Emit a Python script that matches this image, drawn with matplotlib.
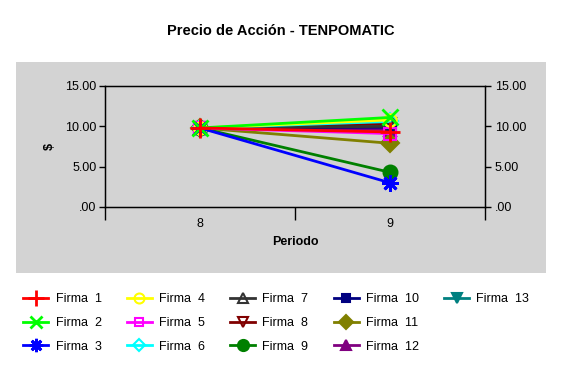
import matplotlib
matplotlib.use('Agg')
import matplotlib.pyplot as plt
from matplotlib.lines import Line2D
from matplotlib.patches import Rectangle

plt.rcParams['font.family'] = ['Liberation Sans', 'DejaVu Sans']

periods = [8, 9]
firms = ['Firma  %d' % i for i in range(1, 14)]
prices = [
    [9.8, 9.3],   # Firma 1
    [9.8, 11.1],  # Firma 2
    [9.8, 3.0],   # Firma 3
    [9.8, 10.8],  # Firma 4
    [9.8, 9.1],   # Firma 5
    [9.8, 10.6],  # Firma 6
    [9.8, 10.0],  # Firma 7
    [9.8, 10.3],  # Firma 8
    [9.8, 4.3],   # Firma 9
    [9.8, 9.9],   # Firma 10
    [9.8, 7.9],   # Firma 11
    [9.8, 9.6],   # Firma 12
    [9.8, 9.8],   # Firma 13
]
y_ticks = [0, 5, 10, 15]
y_tick_labels = ['.00', '5.00', '10.00', '15.00']

colors = ['#ff0000', '#00ff00', '#0000ff', '#ffff00', '#ff00ff', '#00ffff',
          '#333333', '#800000', '#008000', '#000080', '#808000', '#800080',
          '#008080']
markers = ['+', 'x', (8, 2, 0), 'o', 's', 'D', '^', 'v', 'o', 's', 'D', '^', 'v']
hollow = [False, False, False, True, True, True, True, True,
          False, False, False, False, False]
msizes = [14, 11, 12, 9, 8, 8, 9, 9, 10, 8, 9, 9, 9]

fig = plt.figure(figsize=(5.62, 3.72), dpi=100)
fig.patch.set_facecolor('white')

# gray chart area
fig.patches.append(Rectangle((16 / 562, 1 - 273 / 372), 530 / 562, 211 / 372,
                             transform=fig.transFigure, facecolor='#d3d3d3',
                             edgecolor='none', zorder=-5))

ax = fig.add_axes([105 / 562, 1 - 207 / 372, 380 / 562, 121 / 372])
ax.set_facecolor('#d3d3d3')

handles = []
for i in reversed(range(len(firms))):
    mfc = 'none' if hollow[i] else colors[i]
    mew = 2.0 if markers[i] in ('+', 'x') or isinstance(markers[i], tuple) else 1.5
    ax.plot(periods, prices[i], '-', color=colors[i], lw=2, marker=markers[i],
            ms=msizes[i], mfc=mfc, mec=colors[i], mew=mew, zorder=3 + (13 - i),
            clip_on=False)

for i in range(len(firms)):
    mfc = 'none' if hollow[i] else colors[i]
    mew = 2.0 if markers[i] in ('+', 'x') or isinstance(markers[i], tuple) else 1.5
    handles.append(Line2D([], [], color=colors[i], lw=2, marker=markers[i],
                          ms=msizes[i] * 0.8, mfc=mfc, mec=colors[i], mew=mew,
                          label=firms[i]))

ax.set_xlim(7.5, 9.5)
ax.set_ylim(0, 15)
ax.set_xticks([7.5, 8.5, 9.5])
ax.set_xticklabels([])
ax.set_xticks(periods, minor=True)
ax.set_xticklabels([str(p) for p in periods], minor=True)
ax.tick_params(axis='x', which='major', direction='out', length=9, width=1)
ax.tick_params(axis='x', which='minor', length=0, pad=8, labelsize=9)
ax.set_yticks(y_ticks)
ax.set_yticklabels(y_tick_labels)
ax.tick_params(axis='y', direction='out', length=4, width=1, labelsize=9, pad=2)
for s in ax.spines.values():
    s.set_color('black')
    s.set_linewidth(1)

ax2 = ax.twinx()
ax2.set_ylim(0, 15)
ax2.set_yticks(y_ticks)
ax2.set_yticklabels(y_tick_labels)
ax2.tick_params(axis='y', direction='out', length=4, width=1, labelsize=9, pad=3)

ax.set_ylabel('$', fontsize=9, fontweight='bold', labelpad=7)
ax.set_xlabel('Periodo', fontsize=9, fontweight='bold', labelpad=4)
fig.text(0.5, 1 - 31 / 372, 'Precio de Acción - TENPOMATIC', ha='center',
         va='center', fontsize=10.5, fontweight='bold')

blank = Line2D([], [], color='none', label='')
order = handles + [blank, blank]
fig.legend(handles=order, labels=[h.get_label() for h in order], ncol=5,
           loc='upper left', bbox_to_anchor=(18 / 562, 1 - 288 / 372),
           frameon=False, fontsize=9, handlelength=2.0, handletextpad=0.6,
           columnspacing=2.0, labelspacing=0.95, borderaxespad=0)

fig.savefig('out.png', dpi=100)
